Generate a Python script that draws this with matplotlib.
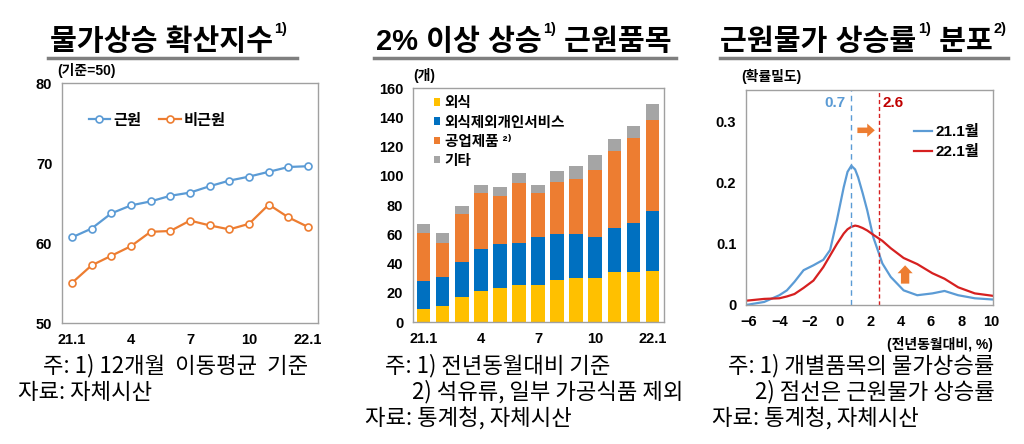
import matplotlib
matplotlib.use("Agg")
import matplotlib.pyplot as plt
from matplotlib.lines import Line2D
from matplotlib.patches import FancyArrow

plt.rcParams['font.family'] = ['Liberation Sans', 'Noto Sans CJK KR', 'DejaVu Sans']

# ---- data ----
months = ['21.1', '2', '3', '4', '5', '6', '7', '8', '9', '10', '11', '12', '22.1']
tick_idx = [0, 3, 6, 9, 12]
tick_labels = ['21.1', '4', '7', '10', '22.1']

# diffusion index (12-month moving average, base = 50)
core_idx = [60.7, 61.8, 63.7, 64.7, 65.2, 65.9, 66.3, 67.1, 67.8, 68.3, 68.9, 69.5, 69.6]
noncore_idx = [55.0, 57.2, 58.4, 59.6, 61.4, 61.5, 62.8, 62.2, 61.7, 62.4, 64.8, 63.2, 62.0]

# number of core items rising 2% or more
eat_out = [9, 11, 17, 21, 23, 25, 25, 29, 30, 30, 34, 34, 35]
services = [19, 20, 24, 29, 30, 29, 33, 31, 30, 28, 30, 34, 41]
industrial = [33, 23, 33, 38, 33, 41, 30, 36, 38, 46, 53, 58, 62]
others = [6, 7, 5, 6, 6, 7, 6, 7, 9, 10, 8, 8, 11]

# density of core inflation rates
dens_x = [-6.2, -5.0, -4.0, -3.5, -3.0, -2.4, -1.75, -1.1, -0.65, -0.2, 0.25, 0.5,
          0.75, 1.0, 1.2, 1.5, 1.8, 2.2, 2.8, 3.35, 4.2, 5.1, 6.1, 6.9, 7.8, 8.9, 10.1]
dens_2101 = [0.0, 0.005, 0.016, 0.024, 0.038, 0.057, 0.065, 0.074, 0.090, 0.139, 0.193, 0.218,
             0.228, 0.222, 0.209, 0.183, 0.155, 0.111, 0.068, 0.046, 0.024, 0.016, 0.019, 0.023,
             0.016, 0.011, 0.009]
dens_2201 = [0.007, 0.010, 0.011, 0.014, 0.018, 0.028, 0.040, 0.062, 0.081, 0.100, 0.117, 0.124,
             0.128, 0.130, 0.129, 0.126, 0.122, 0.115, 0.105, 0.093, 0.077, 0.067, 0.052, 0.043,
             0.029, 0.019, 0.015]
mean_2101 = 0.7
mean_2201 = 2.6

C_BLUE = '#5B9BD5'
C_ORANGE = '#ED7D31'
C_YELLOW = '#FFC000'
C_DBLUE = '#0070C0'
C_GRAY = '#A5A5A5'
C_RED = '#D62020'
SPINE = '#A0A0A0'

fig = plt.figure(figsize=(10.24, 4.44), dpi=100)
W, H = 1024, 444


def add_ax(l, t, r, b):
    return fig.add_axes([l / W, 1 - b / H, (r - l) / W, (b - t) / H])


def style(ax):
    for s in ax.spines.values():
        s.set_color(SPINE)
        s.set_linewidth(1.0)
    ax.tick_params(length=0, labelsize=10.5, pad=7)
    for lab in ax.get_xticklabels() + ax.get_yticklabels():
        lab.set_fontweight('bold')


# ---- left: diffusion index ----
ax1 = add_ax(62, 83, 318, 323)
x = list(range(len(months)))
ax1.plot(x, core_idx, color=C_BLUE, lw=1.6, marker='o', ms=5, mfc='white', mew=1.2, label='근원')
ax1.plot(x, noncore_idx, color=C_ORANGE, lw=1.6, marker='o', ms=5, mfc='white', mew=1.2, label='비근원')
ax1.set_ylim(50, 80)
ax1.set_yticks([50, 60, 70, 80])
ax1.set_xlim(-0.5, 12.5)
ax1.set_xticks(tick_idx)
ax1.set_xticklabels(tick_labels)
style(ax1)
ax1.legend(loc='upper left', bbox_to_anchor=(0.05, 0.93), ncol=2, frameon=False,
           handlelength=1.4, handletextpad=0.2, columnspacing=1.2,
           prop={'size': 11, 'weight': 'bold'})
ax1.text(-0.02, 1.02, '(기준=50)', transform=ax1.transAxes, fontsize=10,
         fontweight='bold', ha='left', va='bottom')

# ---- middle: stacked bars ----
ax2 = add_ax(413, 88, 664, 322)
b1 = eat_out
b2 = [a + b for a, b in zip(b1, services)]
b3 = [a + b for a, b in zip(b2, industrial)]
w = 0.72
ax2.bar(x, eat_out, w, color=C_YELLOW, label='외식')
ax2.bar(x, services, w, bottom=b1, color=C_DBLUE, label='외식제외개인서비스')
ax2.bar(x, industrial, w, bottom=b2, color=C_ORANGE, label='공업제품 ²⁾')
ax2.bar(x, others, w, bottom=b3, color=C_GRAY, label='기타')
ax2.set_ylim(0, 160)
ax2.set_yticks(range(0, 161, 20))
ax2.set_xlim(-0.55, 12.6)
ax2.set_xticks(tick_idx)
ax2.set_xticklabels(tick_labels)
style(ax2)
ax2.legend(loc='upper left', bbox_to_anchor=(0.03, 1.02), frameon=False,
           handlelength=0.45, handleheight=0.45, handletextpad=0.3,
           labelspacing=0.35, prop={'size': 10.5, 'weight': 'bold'})
ax2.text(0.0, 1.02, '(개)', transform=ax2.transAxes, fontsize=10,
         fontweight='bold', ha='left', va='bottom')

# ---- right: density ----
ax3 = add_ax(746, 90, 993, 305)
ax3.plot(dens_x, dens_2101, color=C_BLUE, lw=1.6, label='21.1월')
ax3.plot(dens_x, dens_2201, color=C_RED, lw=1.6, label='22.1월')
ax3.axvline(mean_2101, color=C_BLUE, lw=1.0, ls=(0, (4, 3)))
ax3.axvline(mean_2201, color=C_RED, lw=1.0, ls=(0, (3, 2)))
ax3.text(mean_2101 - 0.35, 0.33, f'{mean_2101}', color=C_BLUE, fontsize=11,
         fontweight='bold', ha='right', va='center')
ax3.text(mean_2201 + 0.2, 0.33, f'{mean_2201}', color='#C00000', fontsize=11,
         fontweight='bold', ha='left', va='center')
ax3.add_patch(FancyArrow(1.15, 0.286, 1.15, 0, width=0.009, head_width=0.022,
                         head_length=0.5, length_includes_head=True,
                         color=C_ORANGE, lw=0))
ax3.add_patch(FancyArrow(4.3, 0.035, 0, 0.03, width=0.55, head_width=1.0,
                         head_length=0.013, length_includes_head=True,
                         color=C_ORANGE, lw=0))
ax3.set_xlim(-6.2, 10.1)
ax3.set_ylim(0, 0.352)
ax3.set_xticks(range(-6, 11, 2))
ax3.set_xticklabels([str(v).replace('-', '−') for v in range(-6, 11, 2)])
ax3.set_yticks([0, 0.1, 0.2, 0.3])
ax3.set_yticklabels(['0', '0.1', '0.2', '0.3'])
style(ax3)
ax3.legend(loc='upper right', bbox_to_anchor=(1.0, 0.9), frameon=False,
           handlelength=1.2, handletextpad=0.2, labelspacing=0.4,
           prop={'size': 11, 'weight': 'bold'})
ax3.text(-0.02, 1.03, '(확률밀도)', transform=ax3.transAxes, fontsize=10,
         fontweight='bold', ha='left', va='bottom')
ax3.text(1.0, -0.15, '(전년동월대비, %)', transform=ax3.transAxes, fontsize=10,
         fontweight='bold', ha='right', va='top')


# ---- titles ----
def title(x, main, sup, tail, uline):
    t1 = fig.text(x / W, 1 - 50 / H, main, fontsize=21, fontweight='bold',
                  ha='left', va='baseline')
    last = fig.add_artist(plt.Annotation(sup, xy=(1, 1), xycoords=t1, xytext=(1, 4),
                                         textcoords='offset points', fontsize=10.5,
                                         fontweight='bold', ha='left', va='top'))
    for kind, txt in tail:
        if kind == 'main':
            last = fig.add_artist(plt.Annotation(txt, xy=(1, 0), xycoords=(last, t1),
                                                 fontsize=21, fontweight='bold',
                                                 ha='left', va='bottom'))
        else:
            last = fig.add_artist(plt.Annotation(txt, xy=(1, 1), xycoords=(last, t1),
                                                 xytext=(1, 4), textcoords='offset points',
                                                 fontsize=10.5, fontweight='bold',
                                                 ha='left', va='top'))
    fig.add_artist(Line2D([uline[0] / W, uline[1] / W], [1 - 58 / H, 1 - 58 / H],
                          color='#7F7F7F', lw=2.5))


title(50, '물가상승 확산지수', '1)', [], (48, 297))
title(376, '2% 이상 상승', '1)', [('main', ' 근원품목')], (374, 676))
title(720, '근원물가 상승률', '1)', [('main', ' 분포'), ('sup', '2)')], (720, 1008))

# ---- footnotes ----
fn = dict(fontsize=16, family=['Noto Sans CJK KR', 'DejaVu Sans'], va='center', ha='left')
fig.text(43 / W, 1 - 366 / H, '주: 1) 12개월  이동평균  기준', **fn)
fig.text(18 / W, 1 - 392 / H, '자료: 자체시산', **fn)
fig.text(385 / W, 1 - 366 / H, '주: 1) 전년동월대비 기준', **fn)
fig.text(412 / W, 1 - 392 / H, '2) 석유류, 일부 가공식품 제외', **fn)
fig.text(365 / W, 1 - 418 / H, '자료: 통계청, 자체시산', **fn)
fig.text(728 / W, 1 - 366 / H, '주: 1) 개별품목의 물가상승률', **fn)
fig.text(755 / W, 1 - 392 / H, '2) 점선은 근원물가 상승률', **fn)
fig.text(712 / W, 1 - 418 / H, '자료: 통계청, 자체시산', **fn)

fig.savefig('out.png', dpi=100, facecolor='white')
